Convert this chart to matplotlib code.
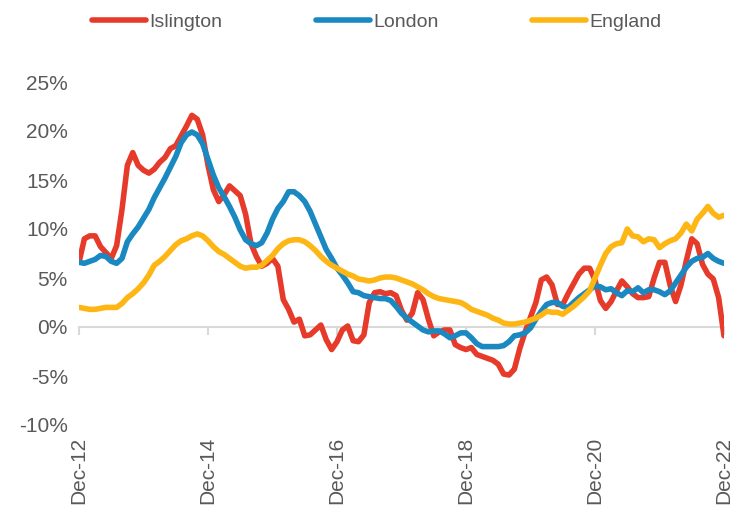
import numpy as np
import matplotlib
matplotlib.use("Agg")
from matplotlib import pyplot as plt

# annual % change, monthly from Dec-12 to Dec-22
islington = [6.6, 9.0, 9.3, 9.3, 8.2, 7.6, 7.0, 8.3, 12.0, 16.5,
             17.8, 16.5, 16.0, 15.7, 16.1, 16.8, 17.3, 18.2, 18.5, 19.5,
             20.5, 21.6, 21.2, 19.6, 16.5, 14.0, 12.8, 13.5, 14.4, 13.9,
             13.4, 11.5, 8.5, 7.2, 6.2, 6.5, 7.0, 6.2, 2.8, 1.8,
             0.5, 0.8, -0.9, -0.8, -0.3, 0.2, -1.3, -2.3, -1.5, -0.3,
             0.1, -1.4, -1.5, -0.8, 2.5, 3.5, 3.6, 3.4, 3.5, 3.2,
             1.7, 0.7, 1.4, 3.5, 2.8, 0.8, -0.9, -0.5, -0.3, -0.3,
             -1.8, -2.1, -2.3, -2.1, -2.8, -3.0, -3.2, -3.4, -3.8, -4.8,
             -4.9, -4.3, -2.2, -0.5, 1.0, 2.5, 4.8, 5.1, 4.3, 2.3,
             2.3, 3.4, 4.4, 5.4, 6.0, 6.0, 4.8, 2.7, 1.9, 2.6,
             3.7, 4.7, 4.1, 3.4, 3.0, 3.0, 3.1, 5.0, 6.6, 6.6,
             4.2, 2.6, 4.3, 6.8, 9.0, 8.5, 6.4, 5.4, 4.9, 3.0,
             -0.9]
london = [6.6, 6.5, 6.7, 6.9, 7.3, 7.2, 6.7, 6.5, 7.0, 8.7,
          9.5, 10.2, 11.1, 12.0, 13.2, 14.2, 15.2, 16.3, 17.4, 18.8,
          19.6, 19.9, 19.6, 18.7, 17.1, 15.5, 14.2, 13.3, 12.3, 11.2,
          9.9, 8.9, 8.5, 8.3, 8.6, 9.6, 11.0, 12.1, 12.8, 13.8,
          13.8, 13.4, 12.8, 11.8, 10.5, 9.2, 7.9, 7.0, 6.0, 5.3,
          4.5, 3.6, 3.5, 3.2, 3.1, 3.0, 2.9, 2.9, 2.7, 2.1,
          1.4, 0.9, 0.5, 0.1, -0.3, -0.5, -0.4, -0.4, -0.7, -1.1,
          -0.9, -0.6, -0.6, -1.1, -1.7, -2.0, -2.0, -2.0, -2.0, -1.9,
          -1.5, -0.9, -0.8, -0.6, -0.1, 0.8, 1.6, 2.3, 2.5, 2.5,
          2.1, 2.0, 2.5, 3.0, 3.4, 3.8, 4.2, 4.1, 3.8, 3.9,
          3.5, 3.2, 3.7, 3.6, 4.0, 3.5, 3.8, 3.8, 3.6, 3.3,
          3.7, 4.5, 5.3, 6.1, 6.7, 7.0, 7.1, 7.5, 7.0, 6.7,
          6.5]
england = [2.0, 1.9, 1.8, 1.8, 1.9, 2.0, 2.0, 2.0, 2.4, 3.0,
           3.4, 3.9, 4.5, 5.3, 6.3, 6.7, 7.2, 7.8, 8.4, 8.8,
           9.0, 9.3, 9.5, 9.3, 8.8, 8.2, 7.7, 7.4, 7.0, 6.6,
           6.2, 6.0, 6.1, 6.1, 6.3, 6.8, 7.3, 8.0, 8.5, 8.8,
           8.9, 8.9, 8.7, 8.3, 7.8, 7.2, 6.7, 6.3, 6.0, 5.7,
           5.4, 5.2, 4.9, 4.8, 4.7, 4.8, 5.0, 5.1, 5.1, 5.0,
           4.8, 4.6, 4.4, 4.1, 3.8, 3.4, 3.1, 2.9, 2.8, 2.7,
           2.6, 2.5, 2.2, 1.8, 1.6, 1.4, 1.2, 0.9, 0.7, 0.4,
           0.3, 0.3, 0.4, 0.5, 0.7, 0.9, 1.2, 1.6, 1.5, 1.5,
           1.3, 1.7, 2.1, 2.6, 3.1, 3.7, 5.0, 6.3, 7.5, 8.2,
           8.5, 8.6, 10.0, 9.3, 9.2, 8.7, 9.0, 8.9, 8.1, 8.5,
           8.8, 9.0, 9.6, 10.5, 9.8, 11.0, 11.6, 12.3, 11.6, 11.2,
           11.4]

series_names = ["Islington", "London", "England"]
series_colors = ["#E63A2A", "#1A88C1", "#FDB614"]
tick_months = [0, 24, 48, 72, 96, 120]
tick_labels = ["Dec-12", "Dec-14", "Dec-16", "Dec-18", "Dec-20", "Dec-22"]
y_ticks = [-10, -5, 0, 5, 10, 15, 20, 25]

months = np.arange(len(islington))
grey = "#595959"
font = "Liberation Sans"

fig = plt.figure(figsize=(7.34, 5.08), dpi=100)
ax = fig.add_axes([79 / 734, 83 / 508, 645 / 734, 343 / 508])

handles = []
for vals, name, col in zip([islington, london, england], series_names, series_colors):
    h, = ax.plot(months, vals, color=col, lw=4.0, label=name,
                 solid_capstyle="round", solid_joinstyle="round", zorder=3)
    handles.append(h)

ax.set_xlim(0, 120)
ax.set_ylim(-10, 25)

for side in ["top", "right", "left"]:
    ax.spines[side].set_visible(False)
ax.spines["bottom"].set_position(("data", 0))
ax.spines["bottom"].set_color("#D9D9D9")
ax.spines["bottom"].set_linewidth(1.5)

ax.set_xticks(tick_months)
ax.tick_params(axis="x", length=6, width=1.5, color="#D9D9D9", labelbottom=False)
# category labels sit at the bottom of the plot, not on the zero line
for m, lab in zip(tick_months, tick_labels):
    ax.text(m, -0.035, lab, transform=ax.get_xaxis_transform(), rotation=90,
            ha="center", va="top", fontsize=15, color=grey, family=font)

ax.set_yticks(y_ticks)
ax.set_yticklabels([f"{v}%" for v in y_ticks], fontsize=15, color=grey, family=font)
ax.tick_params(axis="y", length=0, pad=8)

fig.legend(handles=handles, loc="center", bbox_to_anchor=(0.513, 0.957), ncol=3,
           frameon=False, handlelength=2.8, handletextpad=0.15, columnspacing=4.8,
           prop={"family": font, "size": 14}, labelcolor=grey)

fig.savefig("out.png", dpi=100)
